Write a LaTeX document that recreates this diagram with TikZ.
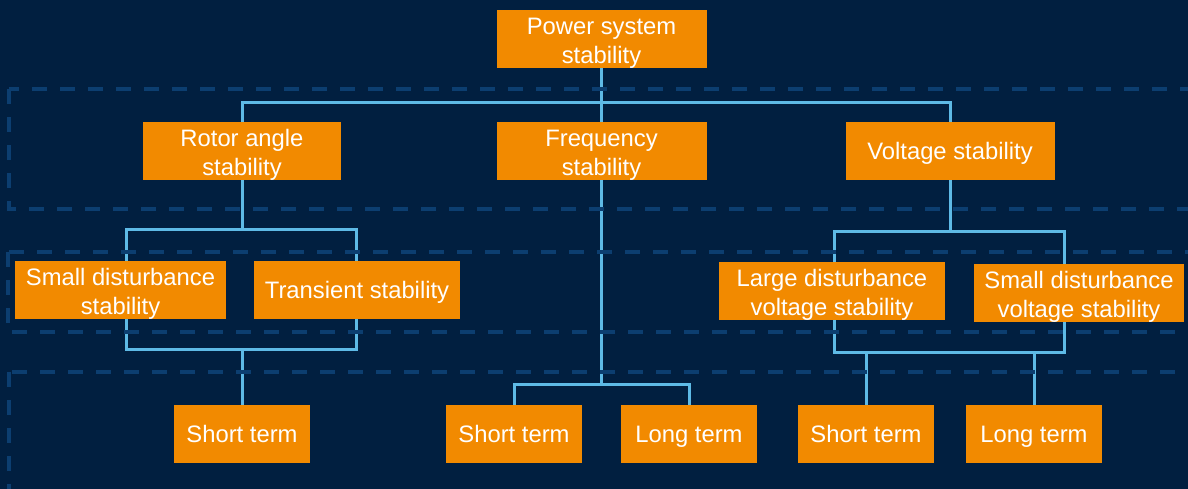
\documentclass[tikz,border=0pt]{standalone}
\usepackage{fontspec}
\setmainfont{Liberation Sans}
\definecolor{bgnavy}{RGB}{1,31,64}
\definecolor{boxorange}{RGB}{242,138,0}
\definecolor{linkblue}{RGB}{94,186,230}
\definecolor{banddash}{RGB}{12,62,112}
% struts with the full ascent and descent of the label font
\newcommand{\lblstrut}{\rule[-5.05pt]{0pt}{26.6pt}}
\newcommand{\lbltopstrut}{\rule[-5.05pt]{0pt}{29.2pt}}
\pgfdeclarelayer{canvas}
\pgfdeclarelayer{back}
\pgfsetlayers{canvas,back,main}
\tikzset{
  cat/.style={fill=boxorange, text=white, align=center, inner sep=0pt,
    minimum height=58pt, font=\fontsize{23.8}{29}\selectfont},
  link/.style={draw=linkblue, line width=3pt},
  band/.style={draw=banddash, line width=3.5pt, dash pattern=on 15pt off 13pt}
}
\begin{document}
\begin{tikzpicture}[x=1pt, y=-1pt]
  \begin{pgfonlayer}{canvas}
    \fill[bgnavy] (0,0) rectangle (1188,489);
  \end{pgfonlayer}
  \useasboundingbox (0,0) rectangle (1188,489);

  % categories
  \node[cat, minimum width=210pt] (ps) at (601.5,39) {\lbltopstrut Power system\\\lblstrut stability};
  \node[cat, minimum width=198pt] (ra) at (242,151) {\lbltopstrut Rotor angle\\\lblstrut stability};
  \node[cat, minimum width=210pt] (fs) at (601.5,151) {\lbltopstrut Frequency\\\lblstrut stability};
  \node[cat, minimum width=209pt] (vs) at (950,151) {\lblstrut Voltage stability};
  \node[cat, minimum width=211pt] (sd) at (120.5,290) {\lbltopstrut Small disturbance\\\lblstrut stability};
  \node[cat, minimum width=206pt] (ts) at (357,290) {\lblstrut Transient stability};
  \node[cat, minimum width=226pt] (ld) at (832,291) {\lbltopstrut Large disturbance\\\lblstrut voltage stability};
  \node[cat, minimum width=210pt] (sv) at (1079,293) {\lbltopstrut Small disturbance\\\lblstrut voltage stability};
  \node[cat, minimum width=136pt] (st1) at (242,434) {\lblstrut Short term};
  \node[cat, minimum width=136pt] (st2) at (514,434) {\lblstrut Short term};
  \node[cat, minimum width=136pt] (lt2) at (689,434) {\lblstrut Long term};
  \node[cat, minimum width=136pt] (st3) at (866,434) {\lblstrut Short term};
  \node[cat, minimum width=136pt] (lt3) at (1034,434) {\lblstrut Long term};

  % branching points of the tree
  \coordinate (top) at (601.5,103);
  \coordinate (raT) at (242,229);
  \coordinate (raB) at (242,349);
  \coordinate (raTL) at (126,229);
  \coordinate (raBR) at (356,349);
  \coordinate (fsJ) at (601.5,384);
  \coordinate (vsT) at (950,231);
  \coordinate (vsTL) at (834,231);
  \coordinate (vsBR) at (1064,352);
  \coordinate (vsB1) at (866,352);
  \coordinate (vsB2) at (1034,352);

  \begin{pgfonlayer}{back}
    % connectors
    \draw[link] (ra.north) |- (top) -| (vs.north);
    \draw[link] (ps.south) -- (fsJ);
    \draw[link] (ra.south) -- (raT);
    \draw[link] (raTL) rectangle (raBR);
    \draw[link] (raB) -- (st1.north);
    \draw[link] (st2.north) |- (fsJ) -| (lt2.north);
    \draw[link] (vs.south) -- (vsT);
    \draw[link] (vsTL) rectangle (vsBR);
    \draw[link] (vsB1) -- (st3.north);
    \draw[link] (vsB2) -- (lt3.north);

    % dashed level bands, over the connectors
    \draw[band] (9,89) rectangle (1210,209);
    \draw[band] (8,252) rectangle (1210,332);
    \draw[band] (9,372) rectangle (1210,510);
  \end{pgfonlayer}
\end{tikzpicture}
\end{document}
